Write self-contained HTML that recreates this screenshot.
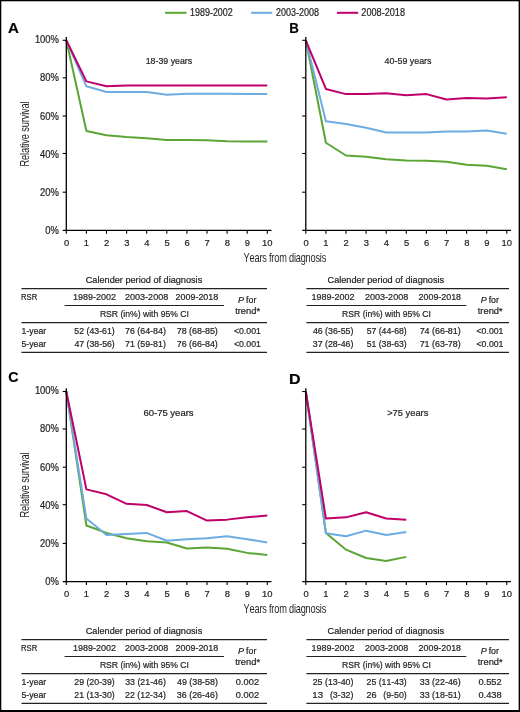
<!DOCTYPE html>
<html><head><meta charset="utf-8"><style>
html,body{margin:0;padding:0;background:#fff;}
body{width:520px;height:712px;overflow:hidden;position:relative;}
svg{position:absolute;left:0;top:0;display:block;will-change:transform;font-family:"Liberation Sans",sans-serif;font-kerning:none;}
text{stroke:#231f20;stroke-width:0.22px;}
</style></head><body>
<svg width="520" height="712" viewBox="0 0 520 712">
<rect x="0" y="0" width="520" height="712" fill="#fff"/>
<polyline points="66.30,40.30 86.40,130.98 106.50,135.35 126.60,137.06 146.70,138.20 166.80,140.10 186.90,140.10 207.00,140.29 227.10,141.24 247.20,141.43 267.30,141.62" fill="none" stroke="#5ba535" stroke-width="2" stroke-linejoin="round" stroke-linecap="butt"/>
<polyline points="66.30,40.30 86.40,86.30 106.50,92.01 126.60,92.01 146.70,92.01 166.80,94.86 186.90,93.72 207.00,93.72 227.10,93.72 247.20,93.91 267.30,93.91" fill="none" stroke="#6dace0" stroke-width="2" stroke-linejoin="round" stroke-linecap="butt"/>
<polyline points="66.30,40.30 86.40,81.36 106.50,86.30 126.60,85.54 146.70,85.54 166.80,85.54 186.90,85.54 207.00,85.54 227.10,85.54 247.20,85.54 267.30,85.54" fill="none" stroke="#c0006a" stroke-width="2" stroke-linejoin="round" stroke-linecap="butt"/>
<line x1="66.30" y1="37.10" x2="66.30" y2="231.00" stroke="#000" stroke-width="1.3"/>
<line x1="62.70" y1="230.40" x2="271.50" y2="230.40" stroke="#000" stroke-width="1.3"/>
<line x1="62.70" y1="192.20" x2="66.30" y2="192.20" stroke="#000" stroke-width="1.1"/>
<line x1="62.70" y1="153.50" x2="66.30" y2="153.50" stroke="#000" stroke-width="1.1"/>
<line x1="62.70" y1="116.00" x2="66.30" y2="116.00" stroke="#000" stroke-width="1.1"/>
<line x1="62.70" y1="77.80" x2="66.30" y2="77.80" stroke="#000" stroke-width="1.1"/>
<line x1="62.70" y1="40.30" x2="66.30" y2="40.30" stroke="#000" stroke-width="1.1"/>
<line x1="66.30" y1="230.40" x2="66.30" y2="233.80" stroke="#000" stroke-width="1.1"/>
<text x="63.88" y="246" font-size="9.9" font-weight="normal" font-style="normal" textLength="5.23" lengthAdjust="spacingAndGlyphs" fill="#231f20" >0</text>
<line x1="86.40" y1="230.40" x2="86.40" y2="233.80" stroke="#000" stroke-width="1.1"/>
<text x="83.86" y="246" font-size="9.9" font-weight="normal" font-style="normal" textLength="5.23" lengthAdjust="spacingAndGlyphs" fill="#231f20" >1</text>
<line x1="106.50" y1="230.40" x2="106.50" y2="233.80" stroke="#000" stroke-width="1.1"/>
<text x="104.08" y="246" font-size="9.9" font-weight="normal" font-style="normal" textLength="5.23" lengthAdjust="spacingAndGlyphs" fill="#231f20" >2</text>
<line x1="126.60" y1="230.40" x2="126.60" y2="233.80" stroke="#000" stroke-width="1.1"/>
<text x="124.21" y="246" font-size="9.9" font-weight="normal" font-style="normal" textLength="5.23" lengthAdjust="spacingAndGlyphs" fill="#231f20" >3</text>
<line x1="146.70" y1="230.40" x2="146.70" y2="233.80" stroke="#000" stroke-width="1.1"/>
<text x="144.31" y="246" font-size="9.9" font-weight="normal" font-style="normal" textLength="5.23" lengthAdjust="spacingAndGlyphs" fill="#231f20" >4</text>
<line x1="166.80" y1="230.40" x2="166.80" y2="233.80" stroke="#000" stroke-width="1.1"/>
<text x="164.39" y="246" font-size="9.9" font-weight="normal" font-style="normal" textLength="5.23" lengthAdjust="spacingAndGlyphs" fill="#231f20" >5</text>
<line x1="186.90" y1="230.40" x2="186.90" y2="233.80" stroke="#000" stroke-width="1.1"/>
<text x="184.45" y="246" font-size="9.9" font-weight="normal" font-style="normal" textLength="5.23" lengthAdjust="spacingAndGlyphs" fill="#231f20" >6</text>
<line x1="207.00" y1="230.40" x2="207.00" y2="233.80" stroke="#000" stroke-width="1.1"/>
<text x="204.58" y="246" font-size="9.9" font-weight="normal" font-style="normal" textLength="5.23" lengthAdjust="spacingAndGlyphs" fill="#231f20" >7</text>
<line x1="227.10" y1="230.40" x2="227.10" y2="233.80" stroke="#000" stroke-width="1.1"/>
<text x="224.68" y="246" font-size="9.9" font-weight="normal" font-style="normal" textLength="5.23" lengthAdjust="spacingAndGlyphs" fill="#231f20" >8</text>
<line x1="247.20" y1="230.40" x2="247.20" y2="233.80" stroke="#000" stroke-width="1.1"/>
<text x="244.79" y="246" font-size="9.9" font-weight="normal" font-style="normal" textLength="5.23" lengthAdjust="spacingAndGlyphs" fill="#231f20" >9</text>
<line x1="267.30" y1="230.40" x2="267.30" y2="233.80" stroke="#000" stroke-width="1.1"/>
<text x="262.09" y="246" font-size="9.9" font-weight="normal" font-style="normal" textLength="10.46" lengthAdjust="spacingAndGlyphs" fill="#231f20" >10</text>
<text x="45.35" y="234" font-size="10" font-weight="normal" font-style="normal" textLength="13.59" lengthAdjust="spacingAndGlyphs" fill="#231f20" >0%</text>
<text x="40.12" y="196" font-size="10" font-weight="normal" font-style="normal" textLength="18.81" lengthAdjust="spacingAndGlyphs" fill="#231f20" >20%</text>
<text x="40.12" y="158" font-size="10" font-weight="normal" font-style="normal" textLength="18.81" lengthAdjust="spacingAndGlyphs" fill="#231f20" >40%</text>
<text x="40.12" y="120" font-size="10" font-weight="normal" font-style="normal" textLength="18.81" lengthAdjust="spacingAndGlyphs" fill="#231f20" >60%</text>
<text x="40.12" y="81" font-size="10" font-weight="normal" font-style="normal" textLength="18.81" lengthAdjust="spacingAndGlyphs" fill="#231f20" >80%</text>
<text x="34.89" y="43" font-size="10" font-weight="normal" font-style="normal" textLength="24.04" lengthAdjust="spacingAndGlyphs" fill="#231f20" >100%</text>
<text x="145.73" y="64" font-size="9.8" font-weight="normal" font-style="normal" textLength="46.49" lengthAdjust="spacingAndGlyphs" fill="#231f20" >18-39 years</text>
<text x="8.03" y="33" font-size="13.8" font-weight="bold" font-style="normal" textLength="10.87" lengthAdjust="spacingAndGlyphs" fill="#000" >A</text>
<polyline points="305.80,40.30 325.90,142.76 346.00,155.50 366.10,156.64 386.20,159.30 406.30,160.44 426.40,160.63 446.50,161.77 466.60,164.82 486.70,165.77 506.80,169.19" fill="none" stroke="#5ba535" stroke-width="2" stroke-linejoin="round" stroke-linecap="butt"/>
<polyline points="305.80,40.30 325.90,121.28 346.00,123.94 366.10,127.75 386.20,132.50 406.30,132.50 426.40,132.50 446.50,131.55 466.60,131.55 486.70,130.60 506.80,133.64" fill="none" stroke="#6dace0" stroke-width="2" stroke-linejoin="round" stroke-linecap="butt"/>
<polyline points="305.80,40.30 325.90,88.97 346.00,94.10 366.10,94.10 386.20,93.15 406.30,95.24 426.40,94.10 446.50,99.42 466.60,98.09 486.70,98.47 506.80,97.14" fill="none" stroke="#c0006a" stroke-width="2" stroke-linejoin="round" stroke-linecap="butt"/>
<line x1="305.80" y1="37.10" x2="305.80" y2="231.00" stroke="#000" stroke-width="1.3"/>
<line x1="302.20" y1="230.40" x2="511.00" y2="230.40" stroke="#000" stroke-width="1.3"/>
<line x1="302.20" y1="192.20" x2="305.80" y2="192.20" stroke="#000" stroke-width="1.1"/>
<line x1="302.20" y1="153.50" x2="305.80" y2="153.50" stroke="#000" stroke-width="1.1"/>
<line x1="302.20" y1="116.00" x2="305.80" y2="116.00" stroke="#000" stroke-width="1.1"/>
<line x1="302.20" y1="77.80" x2="305.80" y2="77.80" stroke="#000" stroke-width="1.1"/>
<line x1="302.20" y1="40.30" x2="305.80" y2="40.30" stroke="#000" stroke-width="1.1"/>
<line x1="305.80" y1="230.40" x2="305.80" y2="233.80" stroke="#000" stroke-width="1.1"/>
<text x="303.38" y="246" font-size="9.9" font-weight="normal" font-style="normal" textLength="5.23" lengthAdjust="spacingAndGlyphs" fill="#231f20" >0</text>
<line x1="325.90" y1="230.40" x2="325.90" y2="233.80" stroke="#000" stroke-width="1.1"/>
<text x="323.36" y="246" font-size="9.9" font-weight="normal" font-style="normal" textLength="5.23" lengthAdjust="spacingAndGlyphs" fill="#231f20" >1</text>
<line x1="346.00" y1="230.40" x2="346.00" y2="233.80" stroke="#000" stroke-width="1.1"/>
<text x="343.58" y="246" font-size="9.9" font-weight="normal" font-style="normal" textLength="5.23" lengthAdjust="spacingAndGlyphs" fill="#231f20" >2</text>
<line x1="366.10" y1="230.40" x2="366.10" y2="233.80" stroke="#000" stroke-width="1.1"/>
<text x="363.71" y="246" font-size="9.9" font-weight="normal" font-style="normal" textLength="5.23" lengthAdjust="spacingAndGlyphs" fill="#231f20" >3</text>
<line x1="386.20" y1="230.40" x2="386.20" y2="233.80" stroke="#000" stroke-width="1.1"/>
<text x="383.81" y="246" font-size="9.9" font-weight="normal" font-style="normal" textLength="5.23" lengthAdjust="spacingAndGlyphs" fill="#231f20" >4</text>
<line x1="406.30" y1="230.40" x2="406.30" y2="233.80" stroke="#000" stroke-width="1.1"/>
<text x="403.89" y="246" font-size="9.9" font-weight="normal" font-style="normal" textLength="5.23" lengthAdjust="spacingAndGlyphs" fill="#231f20" >5</text>
<line x1="426.40" y1="230.40" x2="426.40" y2="233.80" stroke="#000" stroke-width="1.1"/>
<text x="423.95" y="246" font-size="9.9" font-weight="normal" font-style="normal" textLength="5.23" lengthAdjust="spacingAndGlyphs" fill="#231f20" >6</text>
<line x1="446.50" y1="230.40" x2="446.50" y2="233.80" stroke="#000" stroke-width="1.1"/>
<text x="444.08" y="246" font-size="9.9" font-weight="normal" font-style="normal" textLength="5.23" lengthAdjust="spacingAndGlyphs" fill="#231f20" >7</text>
<line x1="466.60" y1="230.40" x2="466.60" y2="233.80" stroke="#000" stroke-width="1.1"/>
<text x="464.18" y="246" font-size="9.9" font-weight="normal" font-style="normal" textLength="5.23" lengthAdjust="spacingAndGlyphs" fill="#231f20" >8</text>
<line x1="486.70" y1="230.40" x2="486.70" y2="233.80" stroke="#000" stroke-width="1.1"/>
<text x="484.29" y="246" font-size="9.9" font-weight="normal" font-style="normal" textLength="5.23" lengthAdjust="spacingAndGlyphs" fill="#231f20" >9</text>
<line x1="506.80" y1="230.40" x2="506.80" y2="233.80" stroke="#000" stroke-width="1.1"/>
<text x="501.59" y="246" font-size="9.9" font-weight="normal" font-style="normal" textLength="10.46" lengthAdjust="spacingAndGlyphs" fill="#231f20" >10</text>
<text x="384.60" y="64" font-size="9.8" font-weight="normal" font-style="normal" textLength="46.93" lengthAdjust="spacingAndGlyphs" fill="#231f20" >40-59 years</text>
<text x="289.21" y="33" font-size="13.8" font-weight="bold" font-style="normal" textLength="9.59" lengthAdjust="spacingAndGlyphs" fill="#000" >B</text>
<polyline points="66.30,391.50 86.40,525.52 106.50,532.93 126.60,538.26 146.70,541.30 166.80,542.44 186.90,548.52 207.00,547.57 227.10,548.71 247.20,552.89 267.30,554.99" fill="none" stroke="#5ba535" stroke-width="2" stroke-linejoin="round" stroke-linecap="butt"/>
<polyline points="66.30,391.50 86.40,518.49 106.50,535.03 126.60,533.88 146.70,532.93 166.80,540.73 186.90,539.21 207.00,538.26 227.10,536.17 247.20,539.21 267.30,542.44" fill="none" stroke="#6dace0" stroke-width="2" stroke-linejoin="round" stroke-linecap="butt"/>
<polyline points="66.30,391.50 86.40,489.40 106.50,494.34 126.60,503.85 146.70,504.99 166.80,512.21 186.90,511.07 207.00,520.58 227.10,519.63 247.20,517.35 267.30,515.45" fill="none" stroke="#c0006a" stroke-width="2" stroke-linejoin="round" stroke-linecap="butt"/>
<line x1="66.30" y1="388.30" x2="66.30" y2="582.20" stroke="#000" stroke-width="1.3"/>
<line x1="62.70" y1="581.60" x2="271.50" y2="581.60" stroke="#000" stroke-width="1.3"/>
<line x1="62.70" y1="543.40" x2="66.30" y2="543.40" stroke="#000" stroke-width="1.1"/>
<line x1="62.70" y1="504.70" x2="66.30" y2="504.70" stroke="#000" stroke-width="1.1"/>
<line x1="62.70" y1="467.20" x2="66.30" y2="467.20" stroke="#000" stroke-width="1.1"/>
<line x1="62.70" y1="429.00" x2="66.30" y2="429.00" stroke="#000" stroke-width="1.1"/>
<line x1="62.70" y1="391.50" x2="66.30" y2="391.50" stroke="#000" stroke-width="1.1"/>
<line x1="66.30" y1="581.60" x2="66.30" y2="585.00" stroke="#000" stroke-width="1.1"/>
<text x="63.88" y="597" font-size="9.9" font-weight="normal" font-style="normal" textLength="5.23" lengthAdjust="spacingAndGlyphs" fill="#231f20" >0</text>
<line x1="86.40" y1="581.60" x2="86.40" y2="585.00" stroke="#000" stroke-width="1.1"/>
<text x="83.86" y="597" font-size="9.9" font-weight="normal" font-style="normal" textLength="5.23" lengthAdjust="spacingAndGlyphs" fill="#231f20" >1</text>
<line x1="106.50" y1="581.60" x2="106.50" y2="585.00" stroke="#000" stroke-width="1.1"/>
<text x="104.08" y="597" font-size="9.9" font-weight="normal" font-style="normal" textLength="5.23" lengthAdjust="spacingAndGlyphs" fill="#231f20" >2</text>
<line x1="126.60" y1="581.60" x2="126.60" y2="585.00" stroke="#000" stroke-width="1.1"/>
<text x="124.21" y="597" font-size="9.9" font-weight="normal" font-style="normal" textLength="5.23" lengthAdjust="spacingAndGlyphs" fill="#231f20" >3</text>
<line x1="146.70" y1="581.60" x2="146.70" y2="585.00" stroke="#000" stroke-width="1.1"/>
<text x="144.31" y="597" font-size="9.9" font-weight="normal" font-style="normal" textLength="5.23" lengthAdjust="spacingAndGlyphs" fill="#231f20" >4</text>
<line x1="166.80" y1="581.60" x2="166.80" y2="585.00" stroke="#000" stroke-width="1.1"/>
<text x="164.39" y="597" font-size="9.9" font-weight="normal" font-style="normal" textLength="5.23" lengthAdjust="spacingAndGlyphs" fill="#231f20" >5</text>
<line x1="186.90" y1="581.60" x2="186.90" y2="585.00" stroke="#000" stroke-width="1.1"/>
<text x="184.45" y="597" font-size="9.9" font-weight="normal" font-style="normal" textLength="5.23" lengthAdjust="spacingAndGlyphs" fill="#231f20" >6</text>
<line x1="207.00" y1="581.60" x2="207.00" y2="585.00" stroke="#000" stroke-width="1.1"/>
<text x="204.58" y="597" font-size="9.9" font-weight="normal" font-style="normal" textLength="5.23" lengthAdjust="spacingAndGlyphs" fill="#231f20" >7</text>
<line x1="227.10" y1="581.60" x2="227.10" y2="585.00" stroke="#000" stroke-width="1.1"/>
<text x="224.68" y="597" font-size="9.9" font-weight="normal" font-style="normal" textLength="5.23" lengthAdjust="spacingAndGlyphs" fill="#231f20" >8</text>
<line x1="247.20" y1="581.60" x2="247.20" y2="585.00" stroke="#000" stroke-width="1.1"/>
<text x="244.79" y="597" font-size="9.9" font-weight="normal" font-style="normal" textLength="5.23" lengthAdjust="spacingAndGlyphs" fill="#231f20" >9</text>
<line x1="267.30" y1="581.60" x2="267.30" y2="585.00" stroke="#000" stroke-width="1.1"/>
<text x="262.09" y="597" font-size="9.9" font-weight="normal" font-style="normal" textLength="10.46" lengthAdjust="spacingAndGlyphs" fill="#231f20" >10</text>
<text x="45.35" y="585" font-size="10" font-weight="normal" font-style="normal" textLength="13.59" lengthAdjust="spacingAndGlyphs" fill="#231f20" >0%</text>
<text x="40.12" y="547" font-size="10" font-weight="normal" font-style="normal" textLength="18.81" lengthAdjust="spacingAndGlyphs" fill="#231f20" >20%</text>
<text x="40.12" y="509" font-size="10" font-weight="normal" font-style="normal" textLength="18.81" lengthAdjust="spacingAndGlyphs" fill="#231f20" >40%</text>
<text x="40.12" y="471" font-size="10" font-weight="normal" font-style="normal" textLength="18.81" lengthAdjust="spacingAndGlyphs" fill="#231f20" >60%</text>
<text x="40.12" y="432" font-size="10" font-weight="normal" font-style="normal" textLength="18.81" lengthAdjust="spacingAndGlyphs" fill="#231f20" >80%</text>
<text x="34.89" y="394" font-size="10" font-weight="normal" font-style="normal" textLength="24.04" lengthAdjust="spacingAndGlyphs" fill="#231f20" >100%</text>
<text x="143.42" y="416" font-size="9.8" font-weight="normal" font-style="normal" textLength="50.23" lengthAdjust="spacingAndGlyphs" fill="#231f20" >60-75 years</text>
<text x="8.32" y="382" font-size="13.8" font-weight="bold" font-style="normal" textLength="10.27" lengthAdjust="spacingAndGlyphs" fill="#000" >C</text>
<polyline points="305.80,391.50 325.90,532.93 346.00,549.66 366.10,558.03 386.20,561.07 406.30,556.89" fill="none" stroke="#5ba535" stroke-width="2" stroke-linejoin="round" stroke-linecap="butt"/>
<polyline points="305.80,391.50 325.90,533.31 346.00,536.17 366.10,530.65 386.20,535.03 406.30,531.98" fill="none" stroke="#6dace0" stroke-width="2" stroke-linejoin="round" stroke-linecap="butt"/>
<polyline points="305.80,391.50 325.90,518.49 346.00,517.35 366.10,512.21 386.20,518.49 406.30,519.63" fill="none" stroke="#c0006a" stroke-width="2" stroke-linejoin="round" stroke-linecap="butt"/>
<line x1="305.80" y1="388.30" x2="305.80" y2="582.20" stroke="#000" stroke-width="1.3"/>
<line x1="302.20" y1="581.60" x2="511.00" y2="581.60" stroke="#000" stroke-width="1.3"/>
<line x1="302.20" y1="543.40" x2="305.80" y2="543.40" stroke="#000" stroke-width="1.1"/>
<line x1="302.20" y1="504.70" x2="305.80" y2="504.70" stroke="#000" stroke-width="1.1"/>
<line x1="302.20" y1="467.20" x2="305.80" y2="467.20" stroke="#000" stroke-width="1.1"/>
<line x1="302.20" y1="429.00" x2="305.80" y2="429.00" stroke="#000" stroke-width="1.1"/>
<line x1="302.20" y1="391.50" x2="305.80" y2="391.50" stroke="#000" stroke-width="1.1"/>
<line x1="305.80" y1="581.60" x2="305.80" y2="585.00" stroke="#000" stroke-width="1.1"/>
<text x="303.38" y="597" font-size="9.9" font-weight="normal" font-style="normal" textLength="5.23" lengthAdjust="spacingAndGlyphs" fill="#231f20" >0</text>
<line x1="325.90" y1="581.60" x2="325.90" y2="585.00" stroke="#000" stroke-width="1.1"/>
<text x="323.36" y="597" font-size="9.9" font-weight="normal" font-style="normal" textLength="5.23" lengthAdjust="spacingAndGlyphs" fill="#231f20" >1</text>
<line x1="346.00" y1="581.60" x2="346.00" y2="585.00" stroke="#000" stroke-width="1.1"/>
<text x="343.58" y="597" font-size="9.9" font-weight="normal" font-style="normal" textLength="5.23" lengthAdjust="spacingAndGlyphs" fill="#231f20" >2</text>
<line x1="366.10" y1="581.60" x2="366.10" y2="585.00" stroke="#000" stroke-width="1.1"/>
<text x="363.71" y="597" font-size="9.9" font-weight="normal" font-style="normal" textLength="5.23" lengthAdjust="spacingAndGlyphs" fill="#231f20" >3</text>
<line x1="386.20" y1="581.60" x2="386.20" y2="585.00" stroke="#000" stroke-width="1.1"/>
<text x="383.81" y="597" font-size="9.9" font-weight="normal" font-style="normal" textLength="5.23" lengthAdjust="spacingAndGlyphs" fill="#231f20" >4</text>
<line x1="406.30" y1="581.60" x2="406.30" y2="585.00" stroke="#000" stroke-width="1.1"/>
<text x="403.89" y="597" font-size="9.9" font-weight="normal" font-style="normal" textLength="5.23" lengthAdjust="spacingAndGlyphs" fill="#231f20" >5</text>
<line x1="426.40" y1="581.60" x2="426.40" y2="585.00" stroke="#000" stroke-width="1.1"/>
<text x="423.95" y="597" font-size="9.9" font-weight="normal" font-style="normal" textLength="5.23" lengthAdjust="spacingAndGlyphs" fill="#231f20" >6</text>
<line x1="446.50" y1="581.60" x2="446.50" y2="585.00" stroke="#000" stroke-width="1.1"/>
<text x="444.08" y="597" font-size="9.9" font-weight="normal" font-style="normal" textLength="5.23" lengthAdjust="spacingAndGlyphs" fill="#231f20" >7</text>
<line x1="466.60" y1="581.60" x2="466.60" y2="585.00" stroke="#000" stroke-width="1.1"/>
<text x="464.18" y="597" font-size="9.9" font-weight="normal" font-style="normal" textLength="5.23" lengthAdjust="spacingAndGlyphs" fill="#231f20" >8</text>
<line x1="486.70" y1="581.60" x2="486.70" y2="585.00" stroke="#000" stroke-width="1.1"/>
<text x="484.29" y="597" font-size="9.9" font-weight="normal" font-style="normal" textLength="5.23" lengthAdjust="spacingAndGlyphs" fill="#231f20" >9</text>
<line x1="506.80" y1="581.60" x2="506.80" y2="585.00" stroke="#000" stroke-width="1.1"/>
<text x="501.59" y="597" font-size="9.9" font-weight="normal" font-style="normal" textLength="10.46" lengthAdjust="spacingAndGlyphs" fill="#231f20" >10</text>
<text x="387.14" y="416" font-size="9.8" font-weight="normal" font-style="normal" textLength="41.20" lengthAdjust="spacingAndGlyphs" fill="#231f20" >&gt;75 years</text>
<text x="289.03" y="384" font-size="13.8" font-weight="bold" font-style="normal" textLength="11.54" lengthAdjust="spacingAndGlyphs" fill="#000" >D</text>
<text transform="translate(243.8,262) scale(0.755,1)" x="-0.27" y="0" font-size="12.2" textLength="109.58" lengthAdjust="spacing" fill="#231f20" style="stroke-width:0">Years from diagnosis</text>
<text transform="translate(29,165.80) rotate(-90) scale(0.755,1)" x="-1.00" y="0" font-size="12.2" textLength="86.32" lengthAdjust="spacing" fill="#231f20" style="stroke-width:0">Relative survival</text>
<text transform="translate(243.8,613) scale(0.755,1)" x="-0.27" y="0" font-size="12.2" textLength="109.58" lengthAdjust="spacing" fill="#231f20" style="stroke-width:0">Years from diagnosis</text>
<text transform="translate(29,516.80) rotate(-90) scale(0.755,1)" x="-1.00" y="0" font-size="12.2" textLength="86.32" lengthAdjust="spacing" fill="#231f20" style="stroke-width:0">Relative survival</text>
<line x1="165.1" y1="12.8" x2="186.5" y2="12.8" stroke="#5ba535" stroke-width="2"/>
<text x="190.12" y="16" font-size="10" font-weight="normal" font-style="normal" textLength="42.63" lengthAdjust="spacingAndGlyphs" fill="#231f20" >1989-2002</text>
<line x1="251.1" y1="12.8" x2="272.3" y2="12.8" stroke="#6dace0" stroke-width="2"/>
<text x="276.05" y="16" font-size="10" font-weight="normal" font-style="normal" textLength="42.84" lengthAdjust="spacingAndGlyphs" fill="#231f20" >2003-2008</text>
<line x1="336.9" y1="12.8" x2="358.2" y2="12.8" stroke="#c0006a" stroke-width="2"/>
<text x="361.34" y="16" font-size="10" font-weight="normal" font-style="normal" textLength="43.66" lengthAdjust="spacingAndGlyphs" fill="#231f20" >2008-2018</text>
<line x1="21.5" y1="288.60" x2="267.0" y2="288.60" stroke="#222" stroke-width="1.1"/>
<line x1="64.6" y1="305.50" x2="224.0" y2="305.50" stroke="#222" stroke-width="1.1"/>
<line x1="21.5" y1="322.60" x2="267.0" y2="322.60" stroke="#222" stroke-width="1.1"/>
<line x1="21.5" y1="352.40" x2="267.0" y2="352.40" stroke="#222" stroke-width="1.1"/>
<text x="85.74" y="283" font-size="9.4" font-weight="normal" font-style="normal" textLength="116.50" lengthAdjust="spacingAndGlyphs" fill="#231f20" >Calender period of diagnosis</text>
<text x="21.07" y="300" font-size="9.4" font-weight="normal" font-style="normal" textLength="16.18" lengthAdjust="spacingAndGlyphs" fill="#231f20" >RSR</text>
<text x="21.54" y="334" font-size="9.4" font-weight="normal" font-style="normal" textLength="24.71" lengthAdjust="spacingAndGlyphs" fill="#231f20" >1-year</text>
<text x="21.45" y="347" font-size="9.4" font-weight="normal" font-style="normal" textLength="24.80" lengthAdjust="spacingAndGlyphs" fill="#231f20" >5-year</text>
<text x="73.12" y="300" font-size="9.4" font-weight="normal" font-style="normal" textLength="42.94" lengthAdjust="spacingAndGlyphs" fill="#231f20" >1989-2002</text>
<text x="125.05" y="300" font-size="9.4" font-weight="normal" font-style="normal" textLength="43.15" lengthAdjust="spacingAndGlyphs" fill="#231f20" >2003-2008</text>
<text x="175.55" y="300" font-size="9.4" font-weight="normal" font-style="normal" textLength="42.74" lengthAdjust="spacingAndGlyphs" fill="#231f20" >2009-2018</text>
<text x="99.89" y="317" font-size="9.4" font-weight="normal" font-style="normal" textLength="89.10" lengthAdjust="spacingAndGlyphs" fill="#231f20" >RSR (in%) with 95% CI</text>
<text x="238.12" y="303" font-size="9.4" font-weight="normal" font-style="italic" textLength="6.04" lengthAdjust="spacingAndGlyphs" fill="#231f20" >P</text>
<text x="246.08" y="303" font-size="9.4" font-weight="normal" font-style="normal" textLength="10.27" lengthAdjust="spacingAndGlyphs" fill="#231f20" >for</text>
<text x="235.16" y="314" font-size="9.4" font-weight="normal" font-style="normal" textLength="24.89" lengthAdjust="spacingAndGlyphs" fill="#231f20" >trend*</text>
<text x="74.35" y="334" font-size="9.4" font-weight="normal" font-style="normal" textLength="40.39" lengthAdjust="spacingAndGlyphs" fill="#231f20" >52 (43-61)</text>
<text x="125.05" y="334" font-size="9.4" font-weight="normal" font-style="normal" textLength="40.80" lengthAdjust="spacingAndGlyphs" fill="#231f20" >76 (64-84)</text>
<text x="176.74" y="334" font-size="9.4" font-weight="normal" font-style="normal" textLength="41.11" lengthAdjust="spacingAndGlyphs" fill="#231f20" >78 (68-85)</text>
<text x="233.93" y="334" font-size="9.4" font-weight="normal" font-style="normal" textLength="26.94" lengthAdjust="spacingAndGlyphs" fill="#231f20" >&lt;0.001</text>
<text x="74.50" y="347" font-size="9.4" font-weight="normal" font-style="normal" textLength="40.24" lengthAdjust="spacingAndGlyphs" fill="#231f20" >47 (38-56)</text>
<text x="125.05" y="347" font-size="9.4" font-weight="normal" font-style="normal" textLength="40.80" lengthAdjust="spacingAndGlyphs" fill="#231f20" >71 (59-81)</text>
<text x="176.74" y="347" font-size="9.4" font-weight="normal" font-style="normal" textLength="41.11" lengthAdjust="spacingAndGlyphs" fill="#231f20" >76 (66-84)</text>
<text x="233.93" y="347" font-size="9.4" font-weight="normal" font-style="normal" textLength="26.94" lengthAdjust="spacingAndGlyphs" fill="#231f20" >&lt;0.001</text>
<line x1="306.4" y1="288.60" x2="509.0" y2="288.60" stroke="#222" stroke-width="1.1"/>
<line x1="306.4" y1="305.50" x2="466.3" y2="305.50" stroke="#222" stroke-width="1.1"/>
<line x1="306.4" y1="322.60" x2="509.0" y2="322.60" stroke="#222" stroke-width="1.1"/>
<line x1="306.4" y1="352.40" x2="509.0" y2="352.40" stroke="#222" stroke-width="1.1"/>
<text x="327.53" y="283" font-size="9.4" font-weight="normal" font-style="normal" textLength="116.60" lengthAdjust="spacingAndGlyphs" fill="#231f20" >Calender period of diagnosis</text>
<text x="311.52" y="300" font-size="9.4" font-weight="normal" font-style="normal" textLength="42.94" lengthAdjust="spacingAndGlyphs" fill="#231f20" >1989-2002</text>
<text x="365.05" y="300" font-size="9.4" font-weight="normal" font-style="normal" textLength="43.15" lengthAdjust="spacingAndGlyphs" fill="#231f20" >2003-2008</text>
<text x="418.55" y="300" font-size="9.4" font-weight="normal" font-style="normal" textLength="42.53" lengthAdjust="spacingAndGlyphs" fill="#231f20" >2009-2018</text>
<text x="342.09" y="317" font-size="9.4" font-weight="normal" font-style="normal" textLength="88.90" lengthAdjust="spacingAndGlyphs" fill="#231f20" >RSR (in%) with 95% CI</text>
<text x="480.72" y="303" font-size="9.4" font-weight="normal" font-style="italic" textLength="6.04" lengthAdjust="spacingAndGlyphs" fill="#231f20" >P</text>
<text x="488.68" y="303" font-size="9.4" font-weight="normal" font-style="normal" textLength="10.27" lengthAdjust="spacingAndGlyphs" fill="#231f20" >for</text>
<text x="477.76" y="314" font-size="9.4" font-weight="normal" font-style="normal" textLength="24.89" lengthAdjust="spacingAndGlyphs" fill="#231f20" >trend*</text>
<text x="312.90" y="334" font-size="9.4" font-weight="normal" font-style="normal" textLength="40.55" lengthAdjust="spacingAndGlyphs" fill="#231f20" >46 (36-55)</text>
<text x="366.65" y="334" font-size="9.4" font-weight="normal" font-style="normal" textLength="40.09" lengthAdjust="spacingAndGlyphs" fill="#231f20" >57 (44-68)</text>
<text x="419.64" y="334" font-size="9.4" font-weight="normal" font-style="normal" textLength="41.11" lengthAdjust="spacingAndGlyphs" fill="#231f20" >74 (66-81)</text>
<text x="476.53" y="334" font-size="9.4" font-weight="normal" font-style="normal" textLength="26.94" lengthAdjust="spacingAndGlyphs" fill="#231f20" >&lt;0.001</text>
<text x="312.76" y="347" font-size="9.4" font-weight="normal" font-style="normal" textLength="40.68" lengthAdjust="spacingAndGlyphs" fill="#231f20" >37 (28-46)</text>
<text x="366.65" y="347" font-size="9.4" font-weight="normal" font-style="normal" textLength="40.09" lengthAdjust="spacingAndGlyphs" fill="#231f20" >51 (38-63)</text>
<text x="419.64" y="347" font-size="9.4" font-weight="normal" font-style="normal" textLength="41.11" lengthAdjust="spacingAndGlyphs" fill="#231f20" >71 (63-78)</text>
<text x="476.53" y="347" font-size="9.4" font-weight="normal" font-style="normal" textLength="26.94" lengthAdjust="spacingAndGlyphs" fill="#231f20" >&lt;0.001</text>
<line x1="21.5" y1="639.60" x2="267.0" y2="639.60" stroke="#222" stroke-width="1.1"/>
<line x1="64.6" y1="656.50" x2="224.0" y2="656.50" stroke="#222" stroke-width="1.1"/>
<line x1="21.5" y1="673.60" x2="267.0" y2="673.60" stroke="#222" stroke-width="1.1"/>
<line x1="21.5" y1="703.40" x2="267.0" y2="703.40" stroke="#222" stroke-width="1.1"/>
<text x="85.74" y="634" font-size="9.4" font-weight="normal" font-style="normal" textLength="116.50" lengthAdjust="spacingAndGlyphs" fill="#231f20" >Calender period of diagnosis</text>
<text x="21.07" y="651" font-size="9.4" font-weight="normal" font-style="normal" textLength="16.18" lengthAdjust="spacingAndGlyphs" fill="#231f20" >RSR</text>
<text x="21.54" y="685" font-size="9.4" font-weight="normal" font-style="normal" textLength="24.71" lengthAdjust="spacingAndGlyphs" fill="#231f20" >1-year</text>
<text x="21.45" y="698" font-size="9.4" font-weight="normal" font-style="normal" textLength="24.80" lengthAdjust="spacingAndGlyphs" fill="#231f20" >5-year</text>
<text x="73.12" y="651" font-size="9.4" font-weight="normal" font-style="normal" textLength="42.94" lengthAdjust="spacingAndGlyphs" fill="#231f20" >1989-2002</text>
<text x="125.05" y="651" font-size="9.4" font-weight="normal" font-style="normal" textLength="43.15" lengthAdjust="spacingAndGlyphs" fill="#231f20" >2003-2008</text>
<text x="175.55" y="651" font-size="9.4" font-weight="normal" font-style="normal" textLength="42.74" lengthAdjust="spacingAndGlyphs" fill="#231f20" >2009-2018</text>
<text x="99.89" y="668" font-size="9.4" font-weight="normal" font-style="normal" textLength="89.10" lengthAdjust="spacingAndGlyphs" fill="#231f20" >RSR (in%) with 95% CI</text>
<text x="238.12" y="654" font-size="9.4" font-weight="normal" font-style="italic" textLength="6.04" lengthAdjust="spacingAndGlyphs" fill="#231f20" >P</text>
<text x="246.08" y="654" font-size="9.4" font-weight="normal" font-style="normal" textLength="10.27" lengthAdjust="spacingAndGlyphs" fill="#231f20" >for</text>
<text x="235.16" y="665" font-size="9.4" font-weight="normal" font-style="normal" textLength="24.89" lengthAdjust="spacingAndGlyphs" fill="#231f20" >trend*</text>
<text x="74.26" y="685" font-size="9.4" font-weight="normal" font-style="normal" textLength="40.49" lengthAdjust="spacingAndGlyphs" fill="#231f20" >29 (20-39)</text>
<text x="125.16" y="685" font-size="9.4" font-weight="normal" font-style="normal" textLength="40.68" lengthAdjust="spacingAndGlyphs" fill="#231f20" >33 (21-46)</text>
<text x="177.00" y="685" font-size="9.4" font-weight="normal" font-style="normal" textLength="40.85" lengthAdjust="spacingAndGlyphs" fill="#231f20" >49 (38-58)</text>
<text x="235.85" y="685" font-size="9.4" font-weight="normal" font-style="normal" textLength="23.20" lengthAdjust="spacingAndGlyphs" fill="#231f20" >0.002</text>
<text x="74.26" y="698" font-size="9.4" font-weight="normal" font-style="normal" textLength="40.49" lengthAdjust="spacingAndGlyphs" fill="#231f20" >21 (13-30)</text>
<text x="125.06" y="698" font-size="9.4" font-weight="normal" font-style="normal" textLength="40.79" lengthAdjust="spacingAndGlyphs" fill="#231f20" >22 (12-34)</text>
<text x="176.86" y="698" font-size="9.4" font-weight="normal" font-style="normal" textLength="40.99" lengthAdjust="spacingAndGlyphs" fill="#231f20" >36 (26-46)</text>
<text x="235.85" y="698" font-size="9.4" font-weight="normal" font-style="normal" textLength="23.20" lengthAdjust="spacingAndGlyphs" fill="#231f20" >0.002</text>
<line x1="306.4" y1="639.60" x2="509.0" y2="639.60" stroke="#222" stroke-width="1.1"/>
<line x1="306.4" y1="656.50" x2="466.3" y2="656.50" stroke="#222" stroke-width="1.1"/>
<line x1="306.4" y1="673.60" x2="509.0" y2="673.60" stroke="#222" stroke-width="1.1"/>
<line x1="306.4" y1="703.40" x2="509.0" y2="703.40" stroke="#222" stroke-width="1.1"/>
<text x="327.53" y="634" font-size="9.4" font-weight="normal" font-style="normal" textLength="116.60" lengthAdjust="spacingAndGlyphs" fill="#231f20" >Calender period of diagnosis</text>
<text x="311.52" y="651" font-size="9.4" font-weight="normal" font-style="normal" textLength="42.94" lengthAdjust="spacingAndGlyphs" fill="#231f20" >1989-2002</text>
<text x="365.05" y="651" font-size="9.4" font-weight="normal" font-style="normal" textLength="43.15" lengthAdjust="spacingAndGlyphs" fill="#231f20" >2003-2008</text>
<text x="418.55" y="651" font-size="9.4" font-weight="normal" font-style="normal" textLength="42.53" lengthAdjust="spacingAndGlyphs" fill="#231f20" >2009-2018</text>
<text x="342.09" y="668" font-size="9.4" font-weight="normal" font-style="normal" textLength="88.90" lengthAdjust="spacingAndGlyphs" fill="#231f20" >RSR (in%) with 95% CI</text>
<text x="480.72" y="654" font-size="9.4" font-weight="normal" font-style="italic" textLength="6.04" lengthAdjust="spacingAndGlyphs" fill="#231f20" >P</text>
<text x="488.68" y="654" font-size="9.4" font-weight="normal" font-style="normal" textLength="10.27" lengthAdjust="spacingAndGlyphs" fill="#231f20" >for</text>
<text x="477.76" y="665" font-size="9.4" font-weight="normal" font-style="normal" textLength="24.89" lengthAdjust="spacingAndGlyphs" fill="#231f20" >trend*</text>
<text x="312.66" y="685" font-size="9.4" font-weight="normal" font-style="normal" textLength="40.79" lengthAdjust="spacingAndGlyphs" fill="#231f20" >25 (13-40)</text>
<text x="366.56" y="685" font-size="9.4" font-weight="normal" font-style="normal" textLength="40.18" lengthAdjust="spacingAndGlyphs" fill="#231f20" >25 (11-43)</text>
<text x="419.76" y="685" font-size="9.4" font-weight="normal" font-style="normal" textLength="40.99" lengthAdjust="spacingAndGlyphs" fill="#231f20" >33 (22-46)</text>
<text x="478.45" y="685" font-size="9.4" font-weight="normal" font-style="normal" textLength="23.20" lengthAdjust="spacingAndGlyphs" fill="#231f20" >0.552</text>
<text x="312.36" y="698" font-size="9.4" font-weight="normal" font-style="normal" textLength="10.76" lengthAdjust="spacingAndGlyphs" fill="#231f20" >13</text>
<text x="329.92" y="698" font-size="9.4" font-weight="normal" font-style="normal" textLength="23.53" lengthAdjust="spacingAndGlyphs" fill="#231f20" >(3-32)</text>
<text x="366.54" y="698" font-size="9.4" font-weight="normal" font-style="normal" textLength="10.16" lengthAdjust="spacingAndGlyphs" fill="#231f20" >26</text>
<text x="383.22" y="698" font-size="9.4" font-weight="normal" font-style="normal" textLength="23.53" lengthAdjust="spacingAndGlyphs" fill="#231f20" >(9-50)</text>
<text x="419.76" y="698" font-size="9.4" font-weight="normal" font-style="normal" textLength="40.99" lengthAdjust="spacingAndGlyphs" fill="#231f20" >33 (18-51)</text>
<text x="478.42" y="698" font-size="9.4" font-weight="normal" font-style="normal" textLength="23.20" lengthAdjust="spacingAndGlyphs" fill="#231f20" >0.438</text>
<rect x="0.65" y="0.65" width="518.8" height="710.2" fill="none" stroke="#000" stroke-width="1.3"/>
<line x1="519.4" y1="0" x2="519.4" y2="712" stroke="#000" stroke-width="1.2"/>
<line x1="0" y1="711" x2="520" y2="711" stroke="#000" stroke-width="2"/>
</svg>
</body></html>
